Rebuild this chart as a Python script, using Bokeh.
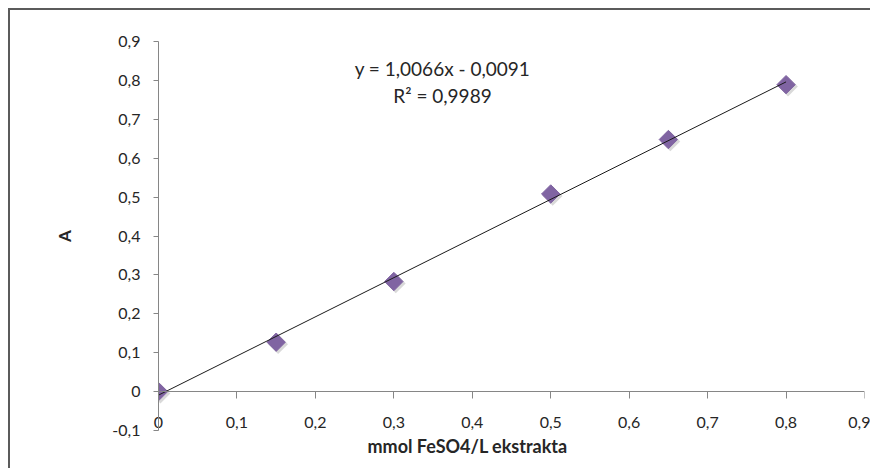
from bokeh.plotting import figure
from bokeh.models import Label, FixedTicker, LinearAxis, Title
from bokeh.embed import file_html
from bokeh.resources import INLINE

# ---- data ----
conc = [0.0, 0.15, 0.30, 0.50, 0.65, 0.80]          # mmol FeSO4/L ekstrakta
absorb = [0.0, 0.127, 0.283, 0.508, 0.648, 0.789]  # A
slope = 1.0066
intercept = -0.0091
equation_text = "y = 1,0066x - 0,0091"
r2_text = "R\u00b2 = 0,9989"

x_ticks = [0.0, 0.1, 0.2, 0.3, 0.4, 0.5, 0.6, 0.7, 0.8, 0.9]
x_tick_labels = ["0", "0,1", "0,2", "0,3", "0,4", "0,5", "0,6", "0,7", "0,8", "0,9"]
y_ticks = [-0.1, 0.0, 0.1, 0.2, 0.3, 0.4, 0.5, 0.6, 0.7, 0.8, 0.9]
y_tick_labels = ["-0,1", "0", "0,1", "0,2", "0,3", "0,4", "0,5", "0,6", "0,7", "0,8", "0,9"]

x_title = "mmol FeSO4/L ekstrakta"
y_title = "A"

FONT = "Lato"
AXIS_COLOR = "#868686"
TEXT_COLOR = "#262626"
MARKER_COLOR = "#8064A2"

p = figure(width=862, height=460, x_range=(0, 0.9), y_range=(-0.1, 0.9),
           output_backend="svg", toolbar_location=None,
           x_axis_location=None, y_axis_location=None,
           min_border_left=148, min_border_right=8, min_border_top=31, min_border_bottom=40,
           styles={"margin-left": "8px", "margin-top": "8px",
                   "border-left": "2px solid #5b5b5b", "border-top": "2px solid #5b5b5b"})
p.grid.visible = False
p.outline_line_color = None
p.background_fill_color = "white"
p.border_fill_color = "white"

# y axis
yax = LinearAxis(ticker=FixedTicker(ticks=y_ticks),
                 major_label_overrides={t: l for t, l in zip(y_ticks, y_tick_labels)})
yax.axis_line_color = AXIS_COLOR
yax.major_tick_line_color = AXIS_COLOR
yax.major_tick_out = 5
yax.major_tick_in = 0
yax.minor_tick_line_color = None
yax.major_label_text_font = FONT
yax.major_label_text_font_size = "16px"
yax.major_label_text_color = TEXT_COLOR
yax.major_label_standoff = 13
yax.axis_label = y_title
yax.axis_label_text_font = FONT
yax.axis_label_text_font_style = "bold"
yax.axis_label_text_font_size = "17px"
yax.axis_label_text_color = TEXT_COLOR
yax.axis_label_standoff = 34
p.add_layout(yax, "left")

# x axis line and ticks crossing at y = 0
xax = LinearAxis(ticker=FixedTicker(ticks=x_ticks))
xax.fixed_location = 0
xax.axis_line_color = AXIS_COLOR
xax.major_tick_line_color = AXIS_COLOR
xax.major_tick_out = 7
xax.major_tick_in = 0
xax.minor_tick_line_color = None
xax.major_label_text_font_size = "0px"
xax.major_label_text_color = None
p.add_layout(xax, "below")

# x tick labels (drawn in the lower border, shifted up to sit under the y = 0 axis)
xlab = LinearAxis(ticker=FixedTicker(ticks=x_ticks),
                  major_label_overrides={t: l for t, l in zip(x_ticks, x_tick_labels)})
xlab.axis_line_color = None
xlab.major_tick_line_color = None
xlab.major_tick_out = 0
xlab.major_tick_in = 0
xlab.minor_tick_line_color = None
xlab.major_label_text_font = FONT
xlab.major_label_text_font_size = "16px"
xlab.major_label_text_color = TEXT_COLOR
xlab.major_label_standoff = -14
p.add_layout(xlab, "below")

# x axis title
p.add_layout(Title(text=x_title, align="left", offset=209, standoff=4,
                   text_font=FONT, text_font_size="18px", text_font_style="bold",
                   text_color=TEXT_COLOR), "below")

# trend line
x_line = [min(conc), max(conc)]
y_line = [slope * v + intercept for v in x_line]

# marker shadow (small offset)
dx = 0.0025
dy = 0.005
p.scatter([v + dx for v in conc], [v - dy for v in absorb], marker="square", size=14,
          angle=0.785398, fill_color="#000000", fill_alpha=0.15, line_color=None)
p.scatter(conc, absorb, marker="square", size=13, angle=0.785398,
          fill_color=MARKER_COLOR, line_color=MARKER_COLOR)
p.line(x_line, y_line, line_color="#1a1a1a", line_width=1)

p.add_layout(Label(x=0.362, y=0.83, text=equation_text, text_align="center",
                   text_baseline="middle", text_font=FONT, text_font_size="19px",
                   text_color=TEXT_COLOR))
p.add_layout(Label(x=0.362, y=0.761, text=r2_text, text_align="center",
                   text_baseline="middle", text_font=FONT, text_font_size="19px",
                   text_color=TEXT_COLOR))

open("out.html", "w").write(file_html(p, INLINE))
